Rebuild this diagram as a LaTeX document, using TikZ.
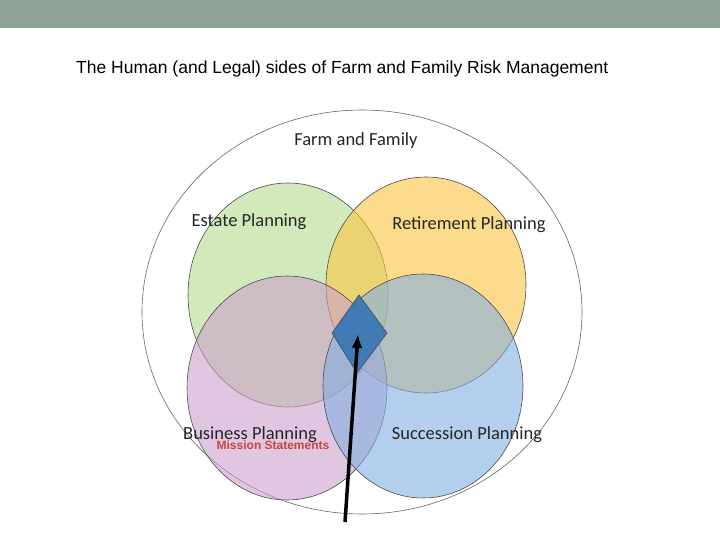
\documentclass[tikz,border=0pt]{standalone}
\usepackage{fontspec}
\usetikzlibrary{arrows.meta}
\setmainfont{Liberation Sans}
\newfontfamily\carlitofont{Carlito}
\begin{document}
\begin{tikzpicture}[x=1pt,y=-1pt,
 circ/.style={draw=black!70,line width=0.6pt,fill opacity=0.6,draw opacity=1},
 lab/.style={font=\carlitofont\fontsize{18.5}{22}\selectfont,text=black!85}]
\useasboundingbox (0,0) rectangle (720,540);
\fill[white] (0,0) rectangle (720,540);
\fill[fill={rgb,255:red,143;green,162;blue,152}] (0,0) rectangle (720,28);
\node[anchor=west,font=\fontsize{17.5}{20}\selectfont,inner sep=0pt] (title) at (76,69) {The Human (and Legal) sides of Farm and Family Risk Management};
\draw[black!60,line width=0.6pt] (362,312) ellipse [x radius=220,y radius=202];
\path[circ,fill={rgb,255:red,181;green,221;blue,143}] (288,295) ellipse [x radius=100,y radius=112];
\path[circ,fill={rgb,255:red,250;green,196;blue,64}] (426,285) ellipse [x radius=100,y radius=108];
\path[circ,fill={rgb,255:red,205;green,160;blue,205}] (287,388) ellipse [x radius=100,y radius=112];
\path[circ,fill={rgb,255:red,130;green,175;blue,225}] (423,386) ellipse [x radius=100,y radius=112];
\node[lab] (ff) at (356,141) {Farm and Family};
\node[lab] (ep) at (249,222) {Estate Planning};
\node[lab] (rp) at (469,225) {Retirement Planning};
\node[lab] (bp) at (250,435) {Business Planning};
\node[lab] (sp) at (467,435) {Succession Planning};
\node[font=\bfseries\fontsize{12}{13}\selectfont,text={rgb,255:red,200;green,70;blue,60}] (ms) at (273,445) {Mission Statements};
\draw[fill={rgb,255:red,60;green,120;blue,180},draw=black!70,line width=0.6pt,fill opacity=0.95] (359,295) -- (387,333) -- (357,373) -- (332,333) -- cycle;
\coordinate (tail) at (345,522);
\coordinate (tip) at (358,334);
\draw[line width=3.5pt,-{Latex[length=14pt,width=11pt]}] (tail) -- (tip);
\end{tikzpicture}
\end{document}
